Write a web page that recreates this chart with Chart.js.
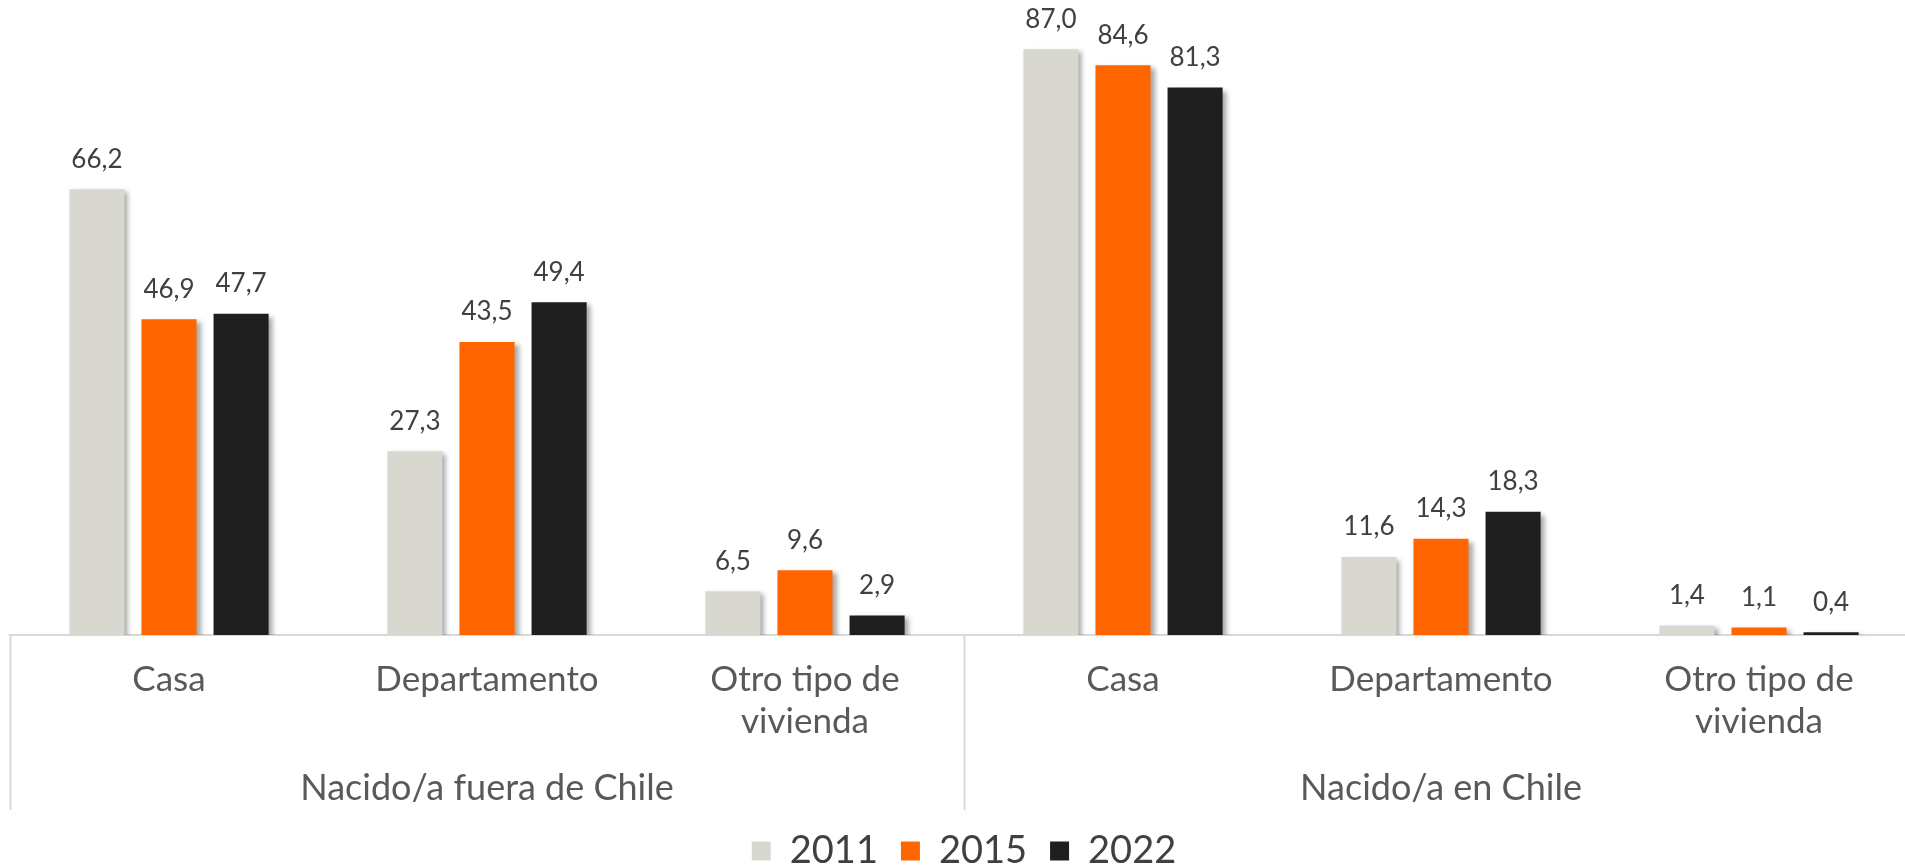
<!DOCTYPE html>
<html>
<head>
<meta charset="utf-8">
<script src="https://cdn.jsdelivr.net/npm/chart.js@4"></script>
<style>
  html, body { margin: 0; padding: 0; background: #fff; overflow: hidden; }
  #wrap { position: absolute; left: 0; top: 0; width: 1930px; height: 866px; }
</style>
</head>
<body>
<div id="wrap"><canvas id="chart" width="1930" height="866"></canvas></div>
<script>
const categories = ["Casa", "Departamento", ["Otro tipo de", "vivienda"], "Casa", "Departamento", ["Otro tipo de", "vivienda"]];
const groups = ["Nacido/a fuera de Chile", "Nacido/a en Chile"];
const years = ["2011", "2015", "2022"];
const v2011 = [66.2, 27.3, 6.5, 87.0, 11.6, 1.4];
const v2015 = [46.9, 43.5, 9.6, 84.6, 14.3, 1.1];
const v2022 = [47.7, 49.4, 2.9, 81.3, 18.3, 0.4];
const colors = ["#D8D8D1", "#FF6600", "#1E1E1E"];

const FONT = "Lato, 'Open Sans', sans-serif";

// soft shadow behind the bars, like the office chart
const barShadow = {
  id: "barShadow",
  beforeDatasetDraw(chart) {
    const c = chart.ctx;
    c.save();
    c.shadowColor = "rgba(0,0,0,0.35)";
    c.shadowBlur = 5;
    c.shadowOffsetX = 4;
    c.shadowOffsetY = 3;
  },
  afterDatasetDraw(chart) {
    chart.ctx.restore();
  }
};

// value labels above each bar, decimal comma
const valueLabels = {
  id: "valueLabels",
  afterDatasetsDraw(chart) {
    const c = chart.ctx;
    c.save();
    c.font = "26px " + FONT;
    c.fillStyle = "#404040";
    c.textAlign = "center";
    c.textBaseline = "bottom";
    chart.data.datasets.forEach((ds, i) => {
      chart.getDatasetMeta(i).data.forEach((bar, j) => {
        const txt = ds.data[j].toFixed(1).replace(".", ",");
        c.fillText(txt, bar.x, bar.y - 17);
      });
    });
    c.restore();
  }
};

// group separators and group names under the category labels
const groupAxis = {
  id: "groupAxis",
  afterDraw(chart) {
    const c = chart.ctx;
    const x = chart.scales.x;
    const top = x.top;
    const mid = (x.getPixelForTick(2) + x.getPixelForTick(3)) / 2;
    c.save();
    c.strokeStyle = "#D9D9D9";
    c.lineWidth = 2;
    [x.left, mid, x.right].forEach(px => {
      c.beginPath();
      c.moveTo(Math.round(px) + 0.5, top);
      c.lineTo(Math.round(px) + 0.5, 810);
      c.stroke();
    });
    c.font = "36px " + FONT;
    c.fillStyle = "#595959";
    c.textAlign = "center";
    c.textBaseline = "middle";
    c.fillText(groups[0], x.getPixelForTick(1), 788);
    c.fillText(groups[1], x.getPixelForTick(4), 788);
    c.restore();
  }
};

const ctx = document.getElementById("chart");
new Chart(ctx, {
  type: "bar",
  data: {
    labels: categories,
    datasets: [
      { label: years[0], data: v2011, backgroundColor: colors[0] },
      { label: years[1], data: v2015, backgroundColor: colors[1] },
      { label: years[2], data: v2022, backgroundColor: colors[2] }
    ]
  },
  options: {
    responsive: false,
    animation: false,
    devicePixelRatio: 1,
    layout: { padding: { left: 10, right: 12, top: 0, bottom: -14 } },
    datasets: {
      bar: { categoryPercentage: 0.68, barPercentage: 0.764, borderWidth: 0 }
    },
    scales: {
      x: {
        grid: { display: false },
        border: { display: true, color: "#D9D9D9", width: 2 },
        ticks: {
          font: { family: FONT, size: 35, lineHeight: 1.22 },
          color: "#595959",
          padding: 15,
          maxRotation: 0,
          autoSkip: false
        },
        afterFit(scale) { scale.height = 174; }
      },
      y: { display: false, min: 0, max: 94.3 }
    },
    plugins: {
      tooltip: { enabled: false },
      legend: {
        position: "bottom",
        labels: {
          font: { family: FONT, size: 38 },
          color: "#404040",
          boxWidth: 19,
          boxHeight: 19,
          padding: 23
        }
      }
    }
  },
  plugins: [barShadow, valueLabels, groupAxis]
});
</script>
</body>
</html>
